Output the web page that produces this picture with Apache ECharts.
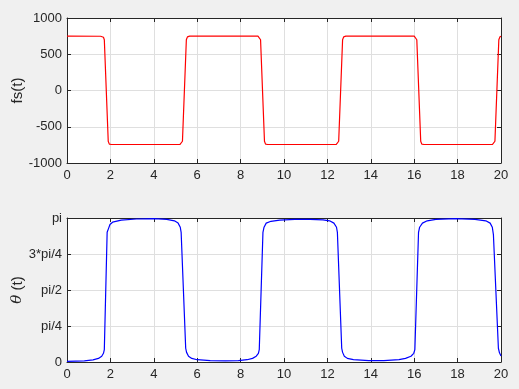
<!DOCTYPE html>
<html><head><meta charset="utf-8">
<script src="https://cdn.jsdelivr.net/npm/echarts@6/dist/echarts.min.js"></script>
<style>html,body{margin:0;padding:0;background:#f0f0f0;}#c{width:519px;height:389px;}</style>
</head><body><div id="c"></div>
<script>
// ---- data ----
const fsTime  = [0, 1.55, 1.68, 1.72, 1.90, 1.95, 2.05, 5.20, 5.28, 5.32, 5.50, 5.55, 5.65, 8.80, 8.88, 8.92, 9.10, 9.15, 9.25, 12.40, 12.48, 12.52, 12.70, 12.75, 12.85, 16.00, 16.08, 16.12, 16.30, 16.35, 16.45, 19.60, 19.68, 19.72, 19.90, 19.95, 20.0];
const fsValue = [750, 748, 735, 700, -700, -740, -745, -745, -735, -700, 700, 740, 750, 750, 735, 700, -700, -740, -745, -745, -735, -700, 700, 740, 750, 750, 735, 700, -700, -740, -745, -745, -735, -700, 700, 740, 748];

const thetaTime  = [0, 0.8, 1.2, 1.45, 1.6, 1.68, 1.72, 1.85, 1.92, 1.98, 2.1, 2.5, 3.2, 4.0, 4.6, 4.95, 5.12, 5.22, 5.26, 5.47, 5.51, 5.6, 5.75, 6.0, 6.6, 7.3, 7.9, 8.3, 8.55, 8.72, 8.82, 8.86, 9.03, 9.08, 9.18, 9.4, 9.8, 10.5, 11.2, 11.8, 12.1, 12.3, 12.42, 12.46, 12.66, 12.70, 12.78, 12.92, 13.2, 13.9, 14.6, 15.3, 15.6, 15.85, 15.98, 16.03, 16.2, 16.25, 16.38, 16.6, 17.0, 17.9, 18.8, 19.3, 19.5, 19.6, 19.65, 19.88, 19.93, 20.0];
const thetaValue = [0.013, 0.025, 0.047, 0.079, 0.126, 0.19, 0.27, 2.83, 2.92, 3.0, 3.05, 3.095, 3.12, 3.126, 3.11, 3.08, 3.03, 2.94, 2.83, 0.30, 0.21, 0.126, 0.079, 0.05, 0.031, 0.025, 0.031, 0.05, 0.079, 0.126, 0.19, 0.27, 2.83, 2.94, 3.03, 3.07, 3.095, 3.11, 3.11, 3.10, 3.08, 3.03, 2.94, 2.83, 0.30, 0.21, 0.126, 0.079, 0.05, 0.031, 0.031, 0.05, 0.079, 0.126, 0.19, 0.27, 2.83, 2.94, 3.03, 3.08, 3.11, 3.126, 3.11, 3.08, 3.03, 2.94, 2.78, 0.30, 0.20, 0.13];

const xTickLabels = ['0','2','4','6','8','10','12','14','16','18','20'];
const fsTickLabels = ['-1000','-500','0','500','1000'];
const thetaTickLabels = ['0','pi/4','pi/2','3*pi/4','pi'];

// ---- chart ----
const fsData = fsTime.map((t, i) => [t, fsValue[i]]);
const quarter = Math.PI / 4;
const thetaData = thetaTime.map((t, i) => [t, thetaValue[i] / quarter]);

const ink = '#262626';
const gridCol = '#dfdfdf';
const font = 'Liberation Sans, Arial, Helvetica, sans-serif';

function xAxisMain(gi) {
  return {
    gridIndex: gi, type: 'value', min: 0, max: 20, interval: 2, position: 'bottom',
    axisLine: {show: true, onZero: false, lineStyle: {color: ink, width: 1}},
    axisTick: {show: true, inside: true, length: 4, lineStyle: {color: ink}},
    splitLine: {show: true, lineStyle: {color: gridCol, width: 1}},
    axisLabel: {color: ink, fontSize: 13, fontFamily: font, margin: 6,
      formatter: v => xTickLabels[Math.round(v / 2)]}
  };
}
function xAxisTop(gi) {
  return {
    gridIndex: gi, type: 'value', min: 0, max: 20, interval: 2, position: 'top',
    axisLine: {show: true, onZero: false, lineStyle: {color: ink, width: 1}},
    axisTick: {show: true, inside: true, length: 4, lineStyle: {color: ink}},
    splitLine: {show: false}, axisLabel: {show: false}
  };
}
function yAxisRight(gi, min, max, interval) {
  return {
    gridIndex: gi, type: 'value', min: min, max: max, interval: interval, position: 'right',
    axisLine: {show: true, onZero: false, lineStyle: {color: ink, width: 1}},
    axisTick: {show: true, inside: true, length: 4, lineStyle: {color: ink}},
    splitLine: {show: false}, axisLabel: {show: false}
  };
}

const option = {
  animation: false,
  backgroundColor: '#f0f0f0',
  grid: [
    {left: 67, right: 18, top: 18, height: 145, show: true, backgroundColor: '#ffffff', borderWidth: 0, containLabel: false, outerBoundsMode: 'none'},
    {left: 67, right: 18, top: 218, height: 144, show: true, backgroundColor: '#ffffff', borderWidth: 0, containLabel: false, outerBoundsMode: 'none'}
  ],
  xAxis: [xAxisMain(0), xAxisTop(0), xAxisMain(1), xAxisTop(1)],
  yAxis: [
    {
      gridIndex: 0, type: 'value', min: -1000, max: 1000, interval: 500, position: 'left',
      axisLine: {show: true, onZero: false, lineStyle: {color: ink, width: 1}},
      axisTick: {show: true, inside: true, length: 4, lineStyle: {color: ink}},
      splitLine: {show: true, lineStyle: {color: gridCol, width: 1}},
      axisLabel: {color: ink, fontSize: 13, fontFamily: font, margin: 5,
        formatter: v => fsTickLabels[Math.round((v + 1000) / 500)]},
      name: 'fs(t)', nameLocation: 'middle', nameRotate: 90, nameGap: 42, nameMoveOverlap: false,
      nameTextStyle: {color: ink, fontSize: 15, fontFamily: font}
    },
    yAxisRight(0, -1000, 1000, 500),
    {
      gridIndex: 1, type: 'value', min: 0, max: 4, interval: 1, position: 'left',
      axisLine: {show: true, onZero: false, lineStyle: {color: ink, width: 1}},
      axisTick: {show: true, inside: true, length: 4, lineStyle: {color: ink}},
      splitLine: {show: true, lineStyle: {color: gridCol, width: 1}},
      axisLabel: {color: ink, fontSize: 13, fontFamily: font, margin: 5,
        formatter: v => thetaTickLabels[Math.round(v)]},
      name: '{i|θ} (t)', nameLocation: 'middle', nameRotate: 90, nameGap: 42, nameMoveOverlap: false,
      nameTextStyle: {color: ink, fontSize: 15, fontFamily: font,
        rich: {i: {fontStyle: 'italic', fontFamily: 'DejaVu Serif, serif', fontSize: 15, color: ink}}}
    },
    yAxisRight(1, 0, 4, 1)
  ],
  series: [
    {type: 'line', xAxisIndex: 0, yAxisIndex: 0, data: fsData, showSymbol: false, symbol: 'none',
      lineStyle: {color: '#ff0000', width: 1.2}, itemStyle: {color: '#ff0000'}},
    {type: 'line', xAxisIndex: 2, yAxisIndex: 2, data: thetaData, showSymbol: false, symbol: 'none',
      lineStyle: {color: '#0000ff', width: 1.2}, itemStyle: {color: '#0000ff'}}
  ]
};
const chart = echarts.init(document.getElementById('c'), null, {renderer: 'canvas'});
chart.setOption(option);
</script>
</body></html>
